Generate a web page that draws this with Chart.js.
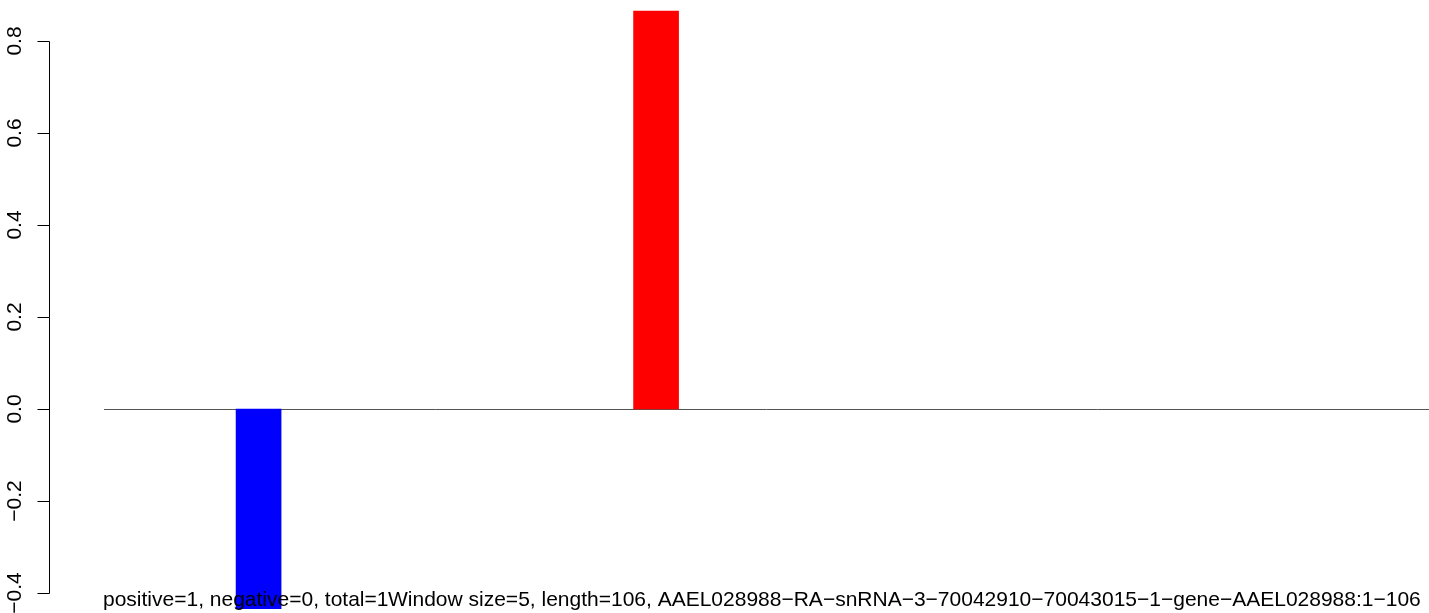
<!DOCTYPE html>
<html>
<head>
<meta charset="utf-8">
<script src="https://cdn.jsdelivr.net/npm/chart.js@4.4.0/dist/chart.umd.min.js"></script>
<style>
  html, body { margin: 0; padding: 0; background: #fff; overflow: hidden; }
  #wrap { width: 1429px; height: 613px; position: relative; }
</style>
</head>
<body>
<div id="wrap"><canvas id="chart"></canvas></div>
<script>
// windows along the transcript (one bar per window, most are empty)
const windowLabels = Array.from({ length: 30 }, (_, i) => String(i + 1));
const windowValues = [0, 0, 0, -0.87, 0, 0, 0, 0, 0, 0, 0, 0, 0.865, 0, 0, 0, 0, 0, 0, 0, 0, 0, 0, 0, 0, 0, 0, 0, 0, 0];
const yTicks = [-0.4, -0.2, 0, 0.2, 0.4, 0.6, 0.8];
const yTickLabels = ['\u22120.4', '\u22120.2', '0.0', '0.2', '0.4', '0.6', '0.8'];
const subLine1 = 'positive=1, negative=0, total=1';
const subLine2 = 'Window size=5, length=106, AAEL028988\u2212RA\u2212snRNA\u22123\u221270042910\u221270043015\u22121\u2212gene\u2212AAEL028988:1\u2212106';

const FONT = '21px "Liberation Sans", Arial, Helvetica, sans-serif';
const AXIS_X = 49.5;
const TICK_LEN = 12;

// R style axis, zero line and sub text
const rStyle = {
  id: 'rStyle',
  beforeDatasetsDraw(chart) {
    const { ctx, chartArea, scales: { y } } = chart;
    const y0 = Math.round(y.getPixelForValue(0)) + 0.5;
    ctx.save();
    ctx.strokeStyle = '#555';
    ctx.lineWidth = 1;
    ctx.beginPath();
    ctx.moveTo(chartArea.left, y0);
    ctx.lineTo(chartArea.right, y0);
    ctx.stroke();
    ctx.restore();
  },
  afterDraw(chart) {
    const { ctx, scales: { y } } = chart;
    ctx.save();
    ctx.strokeStyle = '#000';
    ctx.lineWidth = 1;
    const top = Math.round(y.getPixelForValue(yTicks[yTicks.length - 1])) + 0.5;
    const bot = Math.round(y.getPixelForValue(yTicks[0])) + 0.5;
    ctx.beginPath();
    ctx.moveTo(AXIS_X, top);
    ctx.lineTo(AXIS_X, bot);
    yTicks.forEach(v => {
      const py = Math.round(y.getPixelForValue(v)) + 0.5;
      ctx.moveTo(AXIS_X - TICK_LEN, py);
      ctx.lineTo(AXIS_X, py);
    });
    ctx.stroke();

    ctx.fillStyle = '#000';
    ctx.font = FONT;
    ctx.textAlign = 'center';
    ctx.textBaseline = 'alphabetic';
    yTicks.forEach((v, i) => {
      const py = y.getPixelForValue(v);
      ctx.save();
      ctx.translate(21, py);
      ctx.rotate(-Math.PI / 2);
      ctx.fillText(yTickLabels[i], 0, 0);
      ctx.restore();
    });

    ctx.textAlign = 'left';
    ctx.fillText(subLine1, 103, 606);
    ctx.fillText(subLine2, 388, 606);
    ctx.restore();
  }
};

new Chart(document.getElementById('chart').getContext('2d'), {
  type: 'bar',
  data: {
    labels: windowLabels,
    datasets: [{
      data: windowValues,
      backgroundColor: windowValues.map(v => v < 0 ? '#0000ff' : v > 0 ? '#ff0000' : 'rgba(0,0,0,0)'),
      borderWidth: 0,
      barThickness: 45
    }]
  },
  options: {
    responsive: true,
    maintainAspectRatio: false,
    animation: false,
    layout: { padding: { left: 104, right: 0, top: 5, bottom: 4 } },
    plugins: { legend: { display: false }, tooltip: { enabled: false } },
    scales: {
      x: { display: false },
      y: { display: false, min: -0.4348, max: 0.8783 }
    }
  },
  plugins: [rStyle]
});
</script>
</body>
</html>
